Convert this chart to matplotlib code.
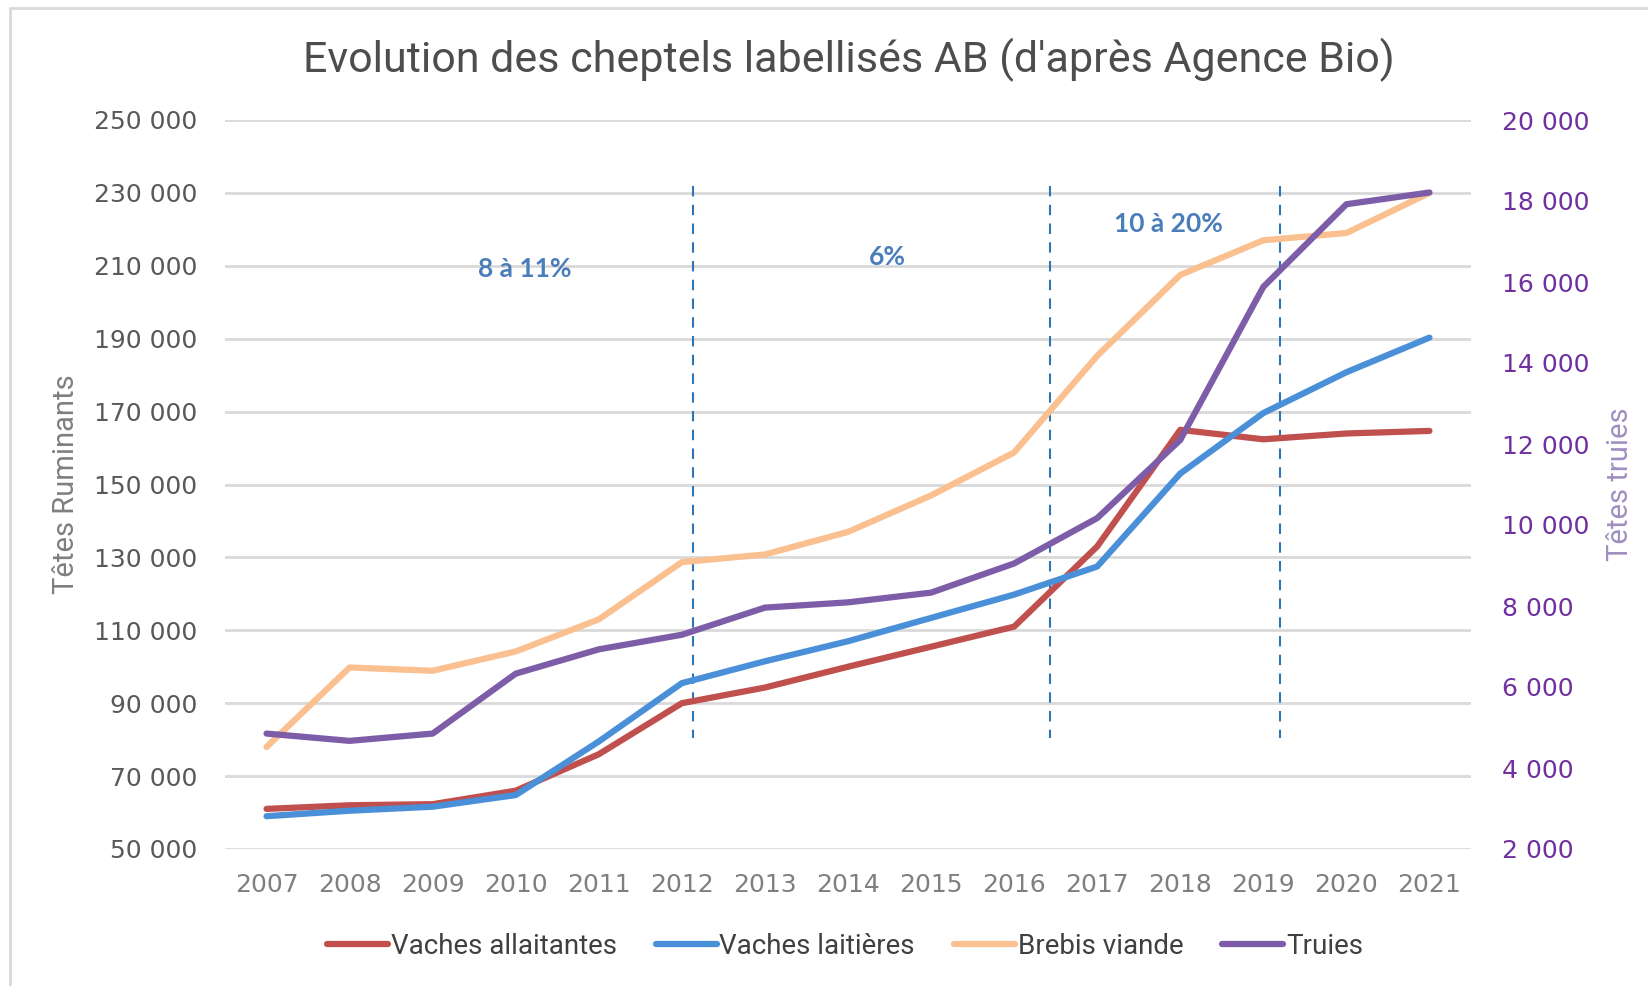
import matplotlib
matplotlib.use('Agg')
import matplotlib.pyplot as plt
from matplotlib.patches import Rectangle
from matplotlib.lines import Line2D

# data
years = list(range(2007, 2022))
vaches_allaitantes = [61000, 62000, 62300, 66000, 76000, 90000, 94300, 100000, 105500, 111000,
                      133000, 165000, 162400, 164000, 164700]
vaches_laitieres = [59000, 60500, 61600, 64800, 79500, 95500, 101500, 107000, 113400, 119800,
                    127500, 153000, 169600, 180800, 190300]
brebis_viande = [78000, 99800, 98900, 104200, 113000, 128700, 130800, 137000, 147000, 158800,
                 185300, 207500, 217000, 219000, 230000]
truies = [4850, 4670, 4850, 6330, 6930, 7290, 7960, 8090, 8330, 9050,
          10170, 12100, 15880, 17920, 18210]

phase_limits = [2012.14, 2016.43, 2019.2]
phase_labels = ['8 à 11%', '6%', '10 à 20%']
phase_x = [2010.11, 2014.48, 2017.86]
phase_y = [209000, 212300, 221500]

left_ticks = list(range(50000, 250001, 20000))
right_ticks = list(range(2000, 20001, 2000))

def fmt(v):
    return f'{v:,}'.replace(',', ' ')

c_red = '#C0504D'
c_blue = '#4A90D9'
c_orange = '#FAC090'
c_purple = '#7E5DA8'
narrow = ['Roboto', 'DejaVu Sans']

fig = plt.figure(figsize=(16.48, 9.86), dpi=100)
ax = fig.add_axes([225/1648, 1-849/986, (1471-225)/1648, (849-120)/986])
ax2 = ax.twinx()

# frame around the chart area
fig.patches.append(Rectangle((10/1648, -0.05), 1.2, 1-8/986+0.05, transform=fig.transFigure,
                             fill=False, ec='#D9D9D9', lw=2))

lw = 4.5
ax.plot(years, vaches_allaitantes, color=c_red, lw=lw, solid_capstyle='round', zorder=3)
ax.plot(years, vaches_laitieres, color=c_blue, lw=lw, solid_capstyle='round', zorder=3)
ax.plot(years, brebis_viande, color=c_orange, lw=lw, solid_capstyle='round', zorder=3)
ax2.plot(years, truies, color=c_purple, lw=lw, solid_capstyle='round', zorder=3)

for xv in phase_limits:
    ax.plot([xv, xv], [232000, 80500], color='#2E75B6', lw=1.5, ls=(0, (5, 4)), zorder=2)
for xt, yt, lab in zip(phase_x, phase_y, phase_labels):
    ax.text(xt, yt, lab, ha='center', va='center', color='#4A7EBB', fontsize=19,
            fontweight='bold', family=['Lato', 'DejaVu Sans'])

ax.set_xlim(2006.5, 2021.5)
ax.set_ylim(50000, 250000)
ax2.set_ylim(2000, 20000)
ax.set_xticks(years)
ax.set_xticklabels([str(y) for y in years])
ax.set_yticks(left_ticks)
ax.set_yticklabels([fmt(v) for v in left_ticks])
ax2.set_yticks(right_ticks)
ax2.set_yticklabels([fmt(v) for v in right_ticks])

ax.grid(axis='y', color='#D9D9D9', lw=2)
ax.set_axisbelow(True)
for a in (ax, ax2):
    for s in a.spines.values():
        s.set_visible(False)
ax.tick_params(axis='y', length=0, pad=20, labelsize=18, labelcolor='#595959')
ax.tick_params(axis='x', length=0, pad=17, labelsize=18, labelcolor='#7F7F7F')
ax2.tick_params(axis='y', length=0, pad=22, labelsize=18, labelcolor='#7030A0')

ax.set_ylabel('Têtes Ruminants', family=narrow, fontsize=21,
              color='#7F7F7F', labelpad=10)
ax2.set_ylabel('Têtes truies', family=narrow, fontsize=21,
               color='#9F8FC0', labelpad=12)

fig.text(849/1648, 1-60/986, "Evolution des cheptels labellisés AB (d'après Agence Bio)",
         ha='center', va='center', family=narrow, fontsize=31, color='#4D4D4D')

handles = [Line2D([0], [0], color=c, lw=lw, solid_capstyle='round') for c in (c_red, c_blue, c_orange, c_purple)]
labels = ['Vaches allaitantes', 'Vaches laitières', 'Brebis viande', 'Truies']
fig.legend(handles, labels, loc='center', bbox_to_anchor=(845/1648, 1-946/986), ncol=4,
           frameon=False, prop={'family': narrow, 'size': 20}, handlelength=2.2,
           handletextpad=0.1, columnspacing=1.4, labelcolor='#404040')

fig.savefig('out.png', dpi=100)
